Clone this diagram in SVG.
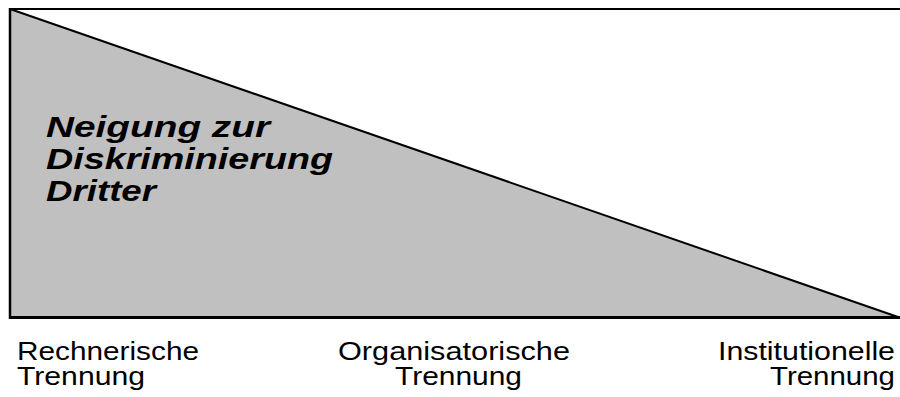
<svg xmlns="http://www.w3.org/2000/svg" width="900" height="397" viewBox="0 0 900 397">
<style>
.lbl{font-family:"Liberation Sans",Arial,sans-serif;font-size:25px;fill:#000}
.big{font-family:"Liberation Sans",Arial,sans-serif;font-size:30px;font-weight:bold;font-style:italic;fill:#000}
.edge{stroke:#000;fill:none}
</style>
<rect width="900" height="397" fill="#fff"/>
<g id="triangle">
<polygon points="10,9 898,317 10,317" fill="#c0c0c0"/>
</g>
<g id="frame">
<line class="edge" x1="10" y1="9" x2="900" y2="9" stroke-width="2"/>
<line class="edge" x1="10" y1="8" x2="10" y2="319" stroke-width="2.5"/>
<line class="edge" x1="9" y1="317.5" x2="900" y2="317.5" stroke-width="3"/>
<line class="edge" x1="10" y1="9" x2="898" y2="317" stroke-width="2"/>
</g>
<g id="title">
<text class="big" x="46" y="137" textLength="224" lengthAdjust="spacingAndGlyphs">Neigung zur</text>
<text class="big" x="46" y="169" textLength="287" lengthAdjust="spacingAndGlyphs">Diskriminierung</text>
<text class="big" x="46" y="201" textLength="110" lengthAdjust="spacingAndGlyphs">Dritter</text>
</g>
<g id="label-rechnerisch">
<text class="lbl" x="17" y="360" textLength="182" lengthAdjust="spacingAndGlyphs">Rechnerische</text>
<text class="lbl" x="17" y="385" textLength="128" lengthAdjust="spacingAndGlyphs">Trennung</text>
</g>
<g id="label-organisatorisch">
<text class="lbl" x="338" y="360" textLength="232" lengthAdjust="spacingAndGlyphs">Organisatorische</text>
<text class="lbl" x="395" y="385" textLength="127" lengthAdjust="spacingAndGlyphs">Trennung</text>
</g>
<g id="label-institutionell">
<text class="lbl" x="718" y="360" textLength="177" lengthAdjust="spacingAndGlyphs">Institutionelle</text>
<text class="lbl" x="770" y="385" textLength="125" lengthAdjust="spacingAndGlyphs">Trennung</text>
</g>
</svg>
